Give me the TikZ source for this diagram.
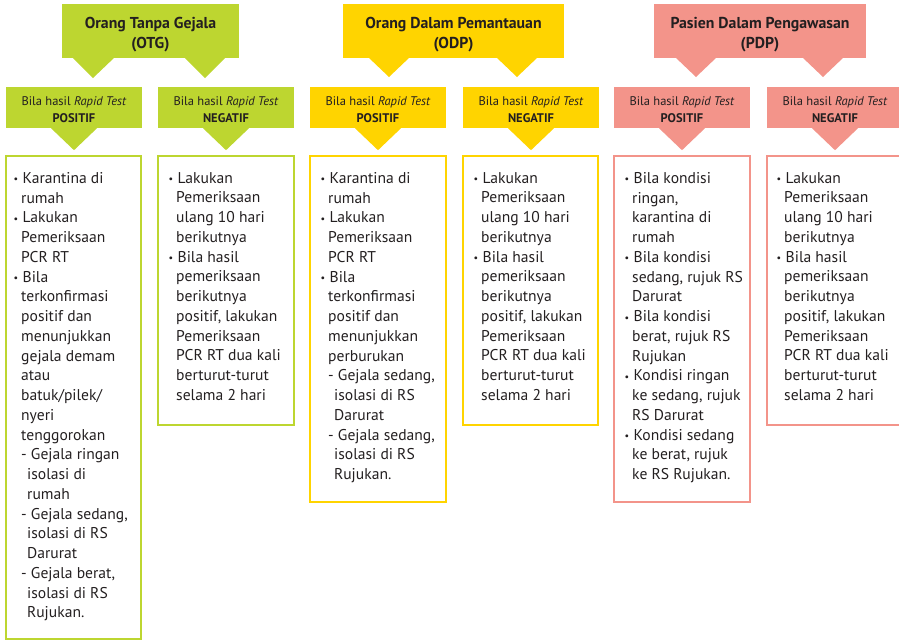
\documentclass[tikz,border=0pt]{standalone}
\usepackage{fontspec}
\usepackage{graphicx}
\setmainfont{PT Sans}
\usetikzlibrary{positioning}

\definecolor{ink}{HTML}{231F20}
\definecolor{otg}{HTML}{BDD630}
\definecolor{odp}{HTML}{FFD400}
\definecolor{pdp}{HTML}{F3948A}

\newcommand\bul{\llap{\raisebox{0.3pt}{\scalebox{0.65}{\textbullet}}\hspace{3pt}}\hspace{1.5pt}}
\newcommand\sub{\hspace*{6pt}}
\newcommand\hup{\rule{0pt}{19pt}}
\newcommand\tup{\rule{0pt}{13.5pt}}
\newcommand\negtext{\bul Lakukan\\ Pemeriksaan\\ ulang 10 hari\\ berikutnya\\
  \bul Bila hasil\\ pemeriksaan\\ berikutnya\\ positif, lakukan\\ Pemeriksaan\\
  PCR RT dua kali\\ berturut-turut\\ selama 2 hari}

\tikzset{
  head/.style={fill=#1, text=ink, align=center, inner sep=0pt, minimum height=54pt,
    font=\bfseries\fontsize{15.8}{20}\selectfont},
  tag/.style={fill=#1, text=ink, align=center, inner sep=0pt, minimum width=136pt,
    minimum height=41pt, font=\fontsize{12.5}{17}\selectfont},
  card/.style={draw=#1, line width=2pt},
  list/.style={anchor=north west, align=left, inner sep=0pt, text=ink,
    font=\fontsize{15.6}{19.75}\selectfont},
}

\begin{document}
\begin{tikzpicture}[x=1pt,y=-1pt]
	\useasboundingbox (0,0) rectangle (899,641);
	% kepala
	\node[head=otg, minimum width=177pt] (otg) at (150.5,31) {\hup Orang Tanpa Gejala\\(OTG)};
	\node[head=odp, minimum width=221pt] (odp) at (453.5,31) {\hup Orang Dalam Pemantauan\\(ODP)};
	\node[head=pdp, minimum width=212pt] (pdp) at (760,31) {\hup Pasien Dalam Pengawasan\\(PDP)};
	\fill[otg] (72,57) -- (115,57) -- (93,78) -- cycle;
	\fill[otg] (184,57) -- (226,57) -- (205,78) -- cycle;
	\fill[odp] (368,57) -- (410,57) -- (389,77) -- cycle;
	\fill[odp] (496,57) -- (538,57) -- (517,77) -- cycle;
	\fill[pdp] (675,57) -- (717,57) -- (696,77) -- cycle;
	\fill[pdp] (802,57) -- (844,57) -- (823,77) -- cycle;
	% hasil rapid test
	\node[tag=otg] (otgpos) at (74,107.5) {\tup Bila hasil \textit{Rapid Test}\\\textbf{POSITIF}};
	\node[tag=otg] (otgneg) at (226,107.5) {\tup Bila hasil \textit{Rapid Test}\\\textbf{NEGATIF}};
	\node[tag=odp] (odppos) at (378,107.5) {\tup Bila hasil \textit{Rapid Test}\\\textbf{POSITIF}};
	\node[tag=odp] (odpneg) at (531,107.5) {\tup Bila hasil \textit{Rapid Test}\\\textbf{NEGATIF}};
	\node[tag=pdp] (pdppos) at (682,107.5) {\tup Bila hasil \textit{Rapid Test}\\\textbf{POSITIF}};
	\node[tag=pdp] (pdpneg) at (835,107.5) {\tup Bila hasil \textit{Rapid Test}\\\textbf{NEGATIF}};
	\fill[otg] ([xshift=-23pt]otgpos.south) -- ([xshift=23pt]otgpos.south) -- ([yshift=-22pt]otgpos.south) -- cycle;
	\fill[otg] ([xshift=-23pt]otgneg.south) -- ([xshift=23pt]otgneg.south) -- ([yshift=-22pt]otgneg.south) -- cycle;
	\fill[odp] ([xshift=-23pt]odppos.south) -- ([xshift=23pt]odppos.south) -- ([yshift=-22pt]odppos.south) -- cycle;
	\fill[odp] ([xshift=-23pt]odpneg.south) -- ([xshift=23pt]odpneg.south) -- ([yshift=-22pt]odpneg.south) -- cycle;
	\fill[pdp] ([xshift=-23pt]pdppos.south) -- ([xshift=23pt]pdppos.south) -- ([yshift=-22pt]pdppos.south) -- cycle;
	\fill[pdp] ([xshift=-23pt]pdpneg.south) -- ([xshift=23pt]pdpneg.south) -- ([yshift=-22pt]pdpneg.south) -- cycle;
	% kotak isi
	\draw[card=otg] (6,156) rectangle (141,639);
	\draw[card=otg] (158,156) rectangle (294,425);
	\draw[card=odp] (310,156) rectangle (446,502);
	\draw[card=odp] (463,156) rectangle (598,425);
	\draw[card=pdp] (614,156) rectangle (750,502);
	\draw[card=pdp] (767,156) rectangle (905,425);
	\node[list] (otgposlist) at (21,172) {\bul Karantina di\\ rumah\\ \bul Lakukan\\ Pemeriksaan\\ PCR RT\\
		\bul Bila\\ terkonfirmasi\\ positif dan\\ menunjukkan\\ gejala demam\\ atau\\ batuk/pilek/\\ nyeri\\ tenggorokan\\
		- Gejala ringan\\ \sub isolasi di\\ \sub rumah\\ - Gejala sedang,\\ \sub isolasi di RS\\ \sub Darurat\\
		- Gejala berat,\\ \sub isolasi di RS\\ \sub Rujukan.};
	\node[list] (otgneglist) at (176,172) {\negtext};
	\node[list] (odpposlist) at (328,172) {\bul Karantina di\\ rumah\\ \bul Lakukan\\ Pemeriksaan\\ PCR RT\\
		\bul Bila\\ terkonfirmasi\\ positif dan\\ menunjukkan\\ perburukan\\
		- Gejala sedang,\\ \sub isolasi di RS\\ \sub Darurat\\ - Gejala sedang,\\ \sub isolasi di RS\\ \sub Rujukan.};
	\node[list] (odpneglist) at (481,172) {\negtext};
	\node[list] (pdpposlist) at (632,172) {\bul Bila kondisi\\ ringan,\\ karantina di\\ rumah\\
		\bul Bila kondisi\\ sedang, rujuk RS\\ Darurat\\ \bul Bila kondisi\\ berat, rujuk RS\\ Rujukan\\
		\bul Kondisi ringan\\ ke sedang, rujuk\\ RS Darurat\\ \bul Kondisi sedang\\ ke berat, rujuk\\ ke RS Rujukan.};
	\node[list] (pdpneglist) at (784,172) {\negtext};
\end{tikzpicture}
\end{document}
